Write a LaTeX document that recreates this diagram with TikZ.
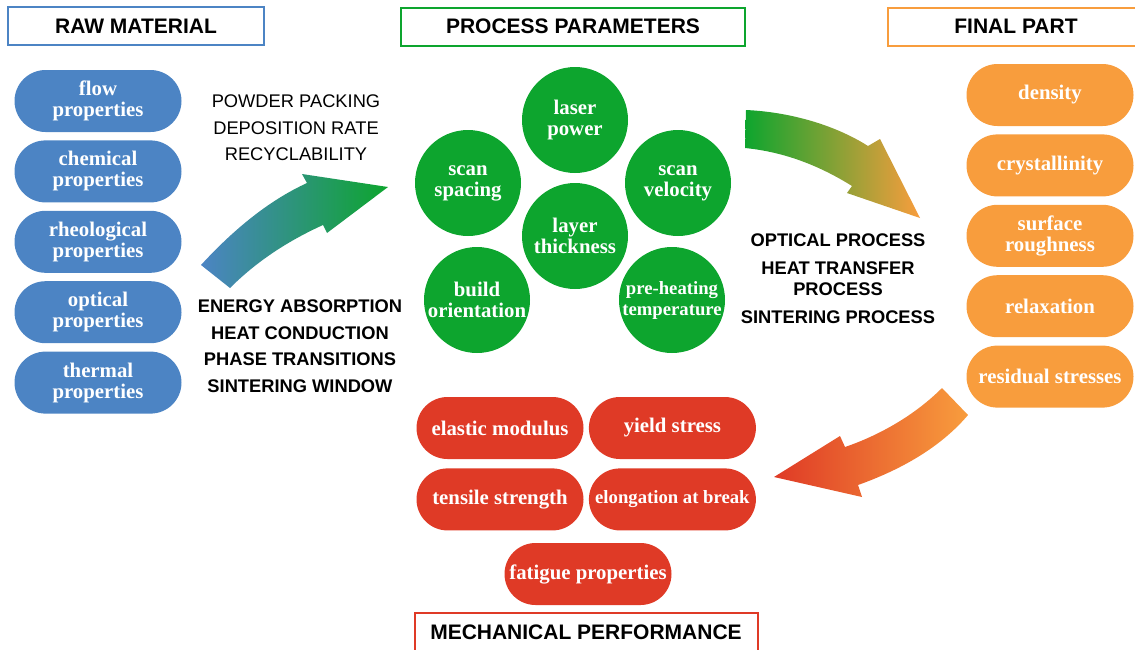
\documentclass[tikz,border=0pt]{standalone}
\usepackage{fontspec}
\setmainfont{Liberation Serif}
\setsansfont{Liberation Sans}
\usetikzlibrary{positioning}
\definecolor{rawblue}{HTML}{4C84C4}
\definecolor{pargreen}{HTML}{0DA52E}
\definecolor{finorange}{HTML}{F89D3D}
\definecolor{mecred}{HTML}{DF3A26}

\begin{document}
\begin{tikzpicture}[x=1pt, y=-1pt,
    pill/.style={rounded corners=31pt, minimum width=167pt, minimum height=62pt,
      text=white, align=center, font=\bfseries\fontsize{20.8}{21}\selectfont},
    disc/.style={circle, fill=pargreen, minimum size=106pt, inner sep=0pt,
      text=white, align=center, font=\bfseries\fontsize{20.8}{21}\selectfont},
    head/.style={draw, line width=2pt, fill=white, minimum height=38pt,
      font=\sffamily\bfseries\fontsize{21}{24}\selectfont},
    note/.style={align=center, font=\sffamily\fontsize{18.3}{26.5}\selectfont}]
  \clip (0,0) rectangle (1135,649);

  \node[head, draw=rawblue, minimum width=256pt] (t1) at (136,26) {RAW MATERIAL};
  \node[head, draw=pargreen, minimum width=344pt] (t2) at (573,26.5) {PROCESS PARAMETERS};
  \node[head, draw=finorange, minimum width=256pt] (t3) at (1016,26.5) {FINAL PART};
  \node[head, draw=mecred, minimum width=343pt] (t4) at (586,632) {MECHANICAL PERFORMANCE};

  \node[pill, fill=rawblue] (raw1) at (98,101) {flow\\properties};
  \node[pill, fill=rawblue, below=8pt of raw1] (raw2) {chemical\\properties};
  \node[pill, fill=rawblue, below=8pt of raw2] (raw3) {rheological\\properties};
  \node[pill, fill=rawblue, below=8pt of raw3] (raw4) {optical\\properties};
  \node[pill, fill=rawblue, below=8pt of raw4] (raw5) {thermal\\properties};

  \node[disc] (par1) at (575,120) {laser\\power};
  \node[disc] (par2) at (468,183) {scan\\spacing};
  \node[disc] (par3) at (678,183) {scan\\velocity};
  \node[disc] (par4) at (575,236) {layer\\thickness};
  \node[disc] (par5) at (477,300) {build\\orientation};
  \node[disc, font=\bfseries\fontsize{18.7}{21}\selectfont] (par6) at (672,300) {pre-heating\\temperature};

  \node[pill, fill=finorange] (fin1) at (1050,95) {density};
  \node[pill, fill=finorange, below=8pt of fin1] (fin2) {crystallinity};
  \node[pill, fill=finorange, below=8pt of fin2] (fin3) {surface\\roughness};
  \node[pill, fill=finorange, below=8pt of fin3] (fin4) {relaxation};
  \node[pill, fill=finorange, below=8pt of fin4] (fin5) {residual stresses};

  \node[pill, fill=mecred] (mec1) at (500,428) {elastic modulus};
  \node[pill, fill=mecred, right=5pt of mec1] (mec2) {yield stress};
  \node[pill, fill=mecred, below=9pt of mec1] (mec3) {tensile strength};
  \node[pill, fill=mecred, right=5pt of mec3, font=\bfseries\fontsize{18.7}{21}\selectfont] (mec4) {elongation at break};
  \node[pill, fill=mecred] (mec5) at (588,574) {fatigue properties};

  \node[note] (pp) at (296,128) {POWDER PACKING\\DEPOSITION RATE\\RECYCLABILITY};
  \node[note, font=\sffamily\bfseries\fontsize{18.3}{26.5}\selectfont] (ea) at (300,346) {ENERGY ABSORPTION\\HEAT CONDUCTION\\PHASE TRANSITIONS\\SINTERING WINDOW};
  \node[note, font=\sffamily\bfseries\fontsize{18.3}{21}\selectfont] (op) at (838,279) {OPTICAL PROCESS\\[7pt]HEAT TRANSFER\\PROCESS\\[7pt]SINTERING PROCESS};

  \shade[left color=rawblue, right color=pargreen]
    (201,265) .. controls (235,228) and (270,200) .. (307,183)
    -- (302,174) -- (388,187) -- (327,233) -- (323,225)
    .. controls (290,240) and (258,260) .. (230,288) -- cycle;
  \shade[left color=pargreen, right color=finorange]
    (746,110) .. controls (790,112) and (835,125) .. (868,146)
    -- (880,139) -- (920,218) -- (847,193) -- (852,186)
    .. controls (820,166) and (785,152) .. (745,148) -- cycle;
  \shade[left color=mecred, right color=finorange]
    (942,388) .. controls (915,415) and (880,435) .. (845,447)
    -- (840,436) -- (774,477) -- (862,497) -- (858,485)
    .. controls (900,470) and (940,448) .. (968,415) -- cycle;
\end{tikzpicture}
\end{document}
